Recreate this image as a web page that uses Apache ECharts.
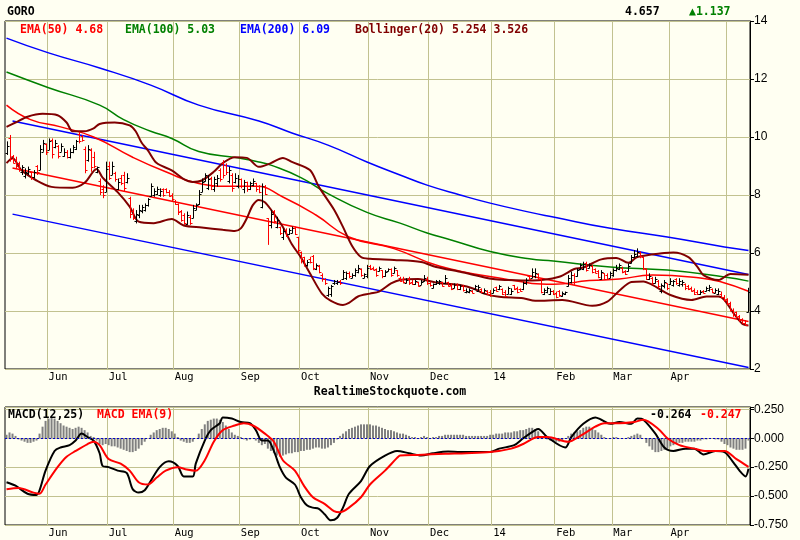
<!DOCTYPE html>
<html>
<head>
<meta charset="utf-8">
<script type="text/javascript" src="https://cdn.jsdelivr.net/npm/echarts/dist/echarts.min.js"></script>
<style>
    html, body { margin: 0; padding: 0; background: #fffff2; }
    #main { width: 800px; height: 540px; }
</style>
</head>
<body>
<div id="main"></div>
<script type="text/javascript">
    // month gridlines (bar index where month starts) and their labels
    var monthLabels = ['Jun', 'Jul', 'Aug', 'Sep', 'Oct', 'Nov', 'Dec', '14', 'Feb', 'Mar', 'Apr', ''];
    var monthStarts = [14, 34, 56, 78, 98, 121, 141, 162, 183, 202, 221, 240];

    var priceTicks = [2, 4, 6, 8, 10, 12, 14];
    var macdTicks = [-0.75, -0.5, -0.25, 0, 0.25];

    // daily OHLC
    var opens = [
        9.45,9.95,9.35,9.2,9.1,8.8,8.65,8.75,8.78,8.62, 9.0,8.86,9.5,9.75,9.55,9.9,9.65,9.7,9.5,9.35,
        9.5,9.3,9.5,9.6,10.1,10.05,9.6,9.2,9.55,9.3, 8.8,8.5,8.2,8.1,9.0,8.7,8.75,8.2,8.6,8.7,
        8.45,7.9,7.45,7.1,7.3,7.45,7.5,7.65,7.95,8.0, 8.05,8.0,8.2,8.2,8.1,8.0,7.8,7.7,7.45,7.3,
        7.0,7.25,7.2,7.5,7.7,8.1,8.5,8.25,8.6,8.2, 8.4,8.85,9.1,9.05,8.5,8.7,8.45,8.3,8.55,8.2,
        8.45,8.2,8.35,8.4,8.3,7.6,8.3,7.2,6.95,7.45, 6.9,6.9,6.55,6.8,6.65,6.7,6.85,6.55,6.05,5.85,
        5.6,5.8,5.9,5.45,5.55,5.25,5.1,4.55,4.6,4.95, 4.95,5.05,5.1,5.15,5.3,5.15,5.25,5.35,5.45,5.15,
        5.2,5.55,5.5,5.45,5.38,5.4,5.2,5.38,5.45,5.3, 5.4,5.15,5.1,4.97,5.1,5.0,4.92,5.0,4.9,5.02,
        5.12,4.98,4.8,4.92,4.95,5.0,4.95,5.0,4.9,4.8, 4.9,4.75,4.85,4.65,4.65,4.7,4.75,4.7,4.75,4.62,
        4.7,4.65,4.62,4.82,4.75,4.75,4.65,4.6,4.6,4.88, 4.8,4.76,4.75,4.95,5.2,5.15,5.2,5.28,5.1,4.6,
        4.65,4.6,4.7,4.62,4.68,4.52,4.58,4.85,5.0,5.25, 5.2,5.45,5.45,5.65,5.5,5.55,5.45,5.38,5.1,5.3,
        5.25,5.15,5.25,5.4,5.45,5.5,5.38,5.38,5.65,5.85, 5.9,6.0,5.85,5.45,5.1,5.15,4.97,5.05,4.7,4.85,
        4.95,4.92,4.9,5.1,4.9,4.92,4.92,4.85,4.8,4.72, 4.65,4.57,4.68,4.68,4.72,4.75,4.62,4.6,4.6,4.5,
        4.4,4.28,4.05,3.95,3.82,3.72,3.6,3.97
    ];
    var highs = [
        9.85,10.07,9.38,9.32,9.15,9.03,8.92,8.98,8.8,8.86, 9.03,9.72,9.9,9.78,9.95,9.95,9.9,9.72,9.78,9.61,
        9.55,9.61,9.72,9.9,10.18,10.07,9.67,9.72,9.61,9.49, 8.98,8.57,8.34,9.15,9.15,9.15,8.8,8.57,8.69,8.8,
        8.75,7.94,7.54,7.48,7.66,7.66,7.71,7.89,8.4,8.23, 8.29,8.23,8.23,8.23,8.17,8.06,7.83,7.71,7.48,7.37,
        7.43,7.31,7.66,7.71,8.17,8.57,8.75,8.69,8.63,8.63, 8.69,8.92,9.2,9.09,8.98,8.75,8.75,8.69,8.57,8.52,
        8.46,8.46,8.57,8.42,8.34,8.4,8.34,7.2,7.48,7.48, 7.25,6.91,6.85,6.85,6.85,6.91,6.91,6.56,6.05,5.87,
        5.76,5.87,5.93,5.64,5.59,5.3,5.13,4.84,4.9,5.07, 5.07,5.07,5.41,5.36,5.36,5.3,5.47,5.59,5.47,5.3,
        5.59,5.59,5.53,5.47,5.53,5.41,5.41,5.47,5.47,5.53, 5.41,5.18,5.18,5.13,5.18,5.07,5.07,5.01,5.07,5.24,
        5.18,5.01,4.95,5.07,5.07,5.01,5.24,5.01,4.95,4.95, 4.95,4.9,4.9,4.78,4.78,4.72,4.9,4.9,4.78,4.78,
        4.72,4.72,4.78,4.84,4.9,4.78,4.72,4.84,4.78,4.9, 4.84,4.78,5.01,5.13,5.24,5.47,5.47,5.3,5.13,4.78,
        4.84,4.78,4.72,4.67,4.72,4.67,4.67,5.24,5.36,5.3, 5.47,5.64,5.7,5.7,5.64,5.59,5.47,5.41,5.41,5.3,
        5.3,5.36,5.47,5.59,5.64,5.53,5.41,5.64,5.93,6.1, 6.16,6.05,5.87,5.47,5.3,5.18,5.18,5.07,4.95,5.07,
        4.95,5.13,5.07,5.13,5.13,5.07,4.95,4.9,4.84,4.78, 4.72,4.72,4.72,4.84,4.9,4.78,4.78,4.78,4.67,4.55,
        4.44,4.32,4.09,3.98,3.86,3.75,3.69,4.8
    ];
    var lows = [
        9.38,9.15,9.09,8.92,8.8,8.69,8.57,8.69,8.52,8.57, 8.69,8.86,9.49,9.38,9.55,9.26,9.61,9.26,9.49,9.32,
        9.26,9.26,9.44,9.55,9.78,9.84,8.75,9.15,8.8,8.92, 8.75,8.0,7.89,8.1,8.52,8.69,8.46,8.17,8.34,8.11,
        8.4,7.2,7.14,7.02,7.2,7.37,7.43,7.6,7.94,7.94, 8.0,7.94,7.94,8.06,7.94,7.77,7.66,7.31,7.08,6.97,
        6.97,6.97,7.2,7.48,7.66,8.1,8.46,8.17,8.17,8.11, 8.29,8.46,8.57,8.69,8.4,8.11,8.4,8.23,8.23,8.06,
        8.11,8.17,8.3,8.11,8.06,7.54,8.0,6.28,6.85,7.02, 6.85,6.62,6.45,6.56,6.62,6.68,6.62,5.99,5.64,5.53,
        5.53,5.64,5.41,5.41,5.3,5.01,4.9,4.49,4.49,4.9, 4.9,4.9,5.07,5.07,5.13,5.13,5.18,5.3,5.18,5.13,
        5.13,5.41,5.41,5.18,5.36,5.13,5.18,5.36,5.18,5.3, 5.18,5.01,4.95,4.95,4.9,4.9,4.9,4.84,4.9,5.01,
        4.9,4.84,4.78,4.9,4.9,4.84,4.95,4.84,4.72,4.78, 4.72,4.72,4.67,4.61,4.61,4.61,4.72,4.67,4.61,4.61,
        4.55,4.49,4.61,4.67,4.72,4.55,4.49,4.58,4.55,4.72, 4.61,4.67,4.72,4.9,5.07,5.13,5.13,5.07,4.61,4.55,
        4.61,4.55,4.55,4.44,4.49,4.49,4.55,4.84,4.95,4.9, 5.18,5.41,5.41,5.36,5.47,5.3,5.3,5.13,5.07,5.07,
        5.07,5.13,5.18,5.36,5.41,5.3,5.24,5.36,5.64,5.82, 5.87,5.82,5.41,5.07,5.07,4.9,4.95,4.78,4.61,4.78,
        4.72,4.9,4.84,4.9,4.84,4.84,4.72,4.72,4.67,4.55, 4.55,4.55,4.61,4.67,4.67,4.61,4.61,4.55,4.44,4.32,
        4.21,3.98,3.8,3.75,3.63,3.57,3.5,3.95
    ];
    var closes = [
        9.7,9.25,9.12,9.0,8.9,8.95,8.8,8.9,8.6,8.78, 8.8,9.6,9.8,9.5,9.85,9.4,9.8,9.35,9.7,9.5,
        9.3,9.5,9.65,9.85,9.85,9.9,8.85,9.6,8.95,9.0, 8.95,8.1,8.0,8.9,8.6,9.0,8.55,8.45,8.4,8.25,
        8.6,7.35,7.2,7.35,7.5,7.6,7.65,7.85,8.3,8.15, 8.2,8.15,8.0,8.1,7.98,7.85,7.7,7.4,7.15,7.05,
        7.3,7.05,7.55,7.65,8.05,8.45,8.7,8.55,8.3,8.55, 8.6,8.55,8.7,8.8,8.85,8.25,8.6,8.55,8.3,8.45,
        8.2,8.4,8.5,8.2,8.1,8.3,8.05,6.95,7.35,7.1, 7.15,6.7,6.75,6.6,6.8,6.85,6.65,6.1,5.75,5.6,
        5.7,5.68,5.5,5.6,5.35,5.1,4.95,4.8,4.85,5.05, 5.0,4.95,5.35,5.3,5.2,5.25,5.4,5.5,5.25,5.27,
        5.5,5.45,5.43,5.25,5.48,5.2,5.35,5.45,5.25,5.5, 5.25,5.05,5.0,5.08,4.95,4.92,5.02,4.87,5.0,5.15,
        4.97,4.88,4.92,5.02,5.03,4.87,5.15,4.87,4.76,4.9, 4.76,4.85,4.72,4.7,4.74,4.63,4.85,4.82,4.65,4.72,
        4.58,4.55,4.72,4.7,4.85,4.6,4.52,4.78,4.7,4.75, 4.65,4.7,4.95,5.07,5.1,5.35,5.3,5.1,4.65,4.72,
        4.8,4.7,4.6,4.5,4.55,4.62,4.64,5.15,5.25,5.0, 5.4,5.58,5.62,5.42,5.6,5.35,5.32,5.18,5.35,5.12,
        5.1,5.3,5.4,5.5,5.58,5.35,5.28,5.55,5.85,5.98, 6.05,5.88,5.5,5.12,5.22,4.95,5.1,4.85,4.9,5.0,
        4.78,5.05,5.02,4.95,5.05,5.0,4.78,4.75,4.7,4.6, 4.57,4.65,4.62,4.78,4.82,4.65,4.72,4.7,4.48,4.38,
        4.25,4.05,3.85,3.8,3.68,3.6,3.52,4.657
    ];

    // indicator lines: [bar index, value] read at intervals
    var ema50 = [[0,11.1],[8,10.6],[18,10.35],[29,10.0],[42,9.3],[53,8.8],[64,8.4],[75,8.3],[83,8.3],[92,7.93],
        [103,7.31],[114,6.55],[129,6.15],[144,5.55],[164,5.14],[182,4.92],[194,5.05],[204,5.1],[215,5.24],
        [231,5.14],[238,5.0],[247,4.68]];
    var ema100 = [[0,12.24],[14,11.7],[31,11.1],[39,10.6],[48,10.2],[55,9.95],[64,9.5],[77,9.28],[84,9.14],
        [88,9.03],[98,8.6],[107,8.05],[120,7.4],[131,7.03],[140,6.69],[148,6.45],[161,6.05],[174,5.8],
        [182,5.72],[201,5.52],[220,5.41],[239,5.17],[247,5.03]];
    var ema200 = [[0,13.41],[14,12.9],[31,12.38],[48,11.79],[64,11.1],[84,10.55],[95,10.14],[107,9.72],
        [120,9.14],[131,8.69],[140,8.34],[151,8.0],[161,7.72],[174,7.41],[182,7.24],[201,6.85],[220,6.55],
        [239,6.21],[247,6.09]];
    var bbUpper = [[0,10.35],[3,10.5],[7,10.7],[12,10.8],[17,10.75],[20,10.5],[22,10.2],[26,10.2],[29,10.3],
        [31,10.45],[36,10.5],[41,10.4],[43,10.2],[45,9.8],[47,9.55],[50,9.1],[55,8.85],[59,8.55],[62,8.45],
        [65,8.5],[69,8.8],[72,9.1],[76,9.3],[80,9.28],[84,8.97],[88,9.1],[92,9.28],[95,9.14],[101,8.86],
        [104,8.28],[109,7.5],[112,6.9],[115,6.25],[118,5.86],[121,5.8],[129,5.76],[138,5.69],[143,5.52],
        [151,5.35],[162,5.1],[167,5.07],[175,5.05],[184,5.18],[189,5.45],[192,5.5],[198,5.78],[203,5.83],
        [207,5.66],[210,5.86],[219,6.0],[222,6.02],[227,5.86],[230,5.52],[232,5.24],[237,5.07],[241,5.28],
        [247,5.25]];
    var bbLower = [[0,9.1],[2,9.28],[5,8.85],[10,8.5],[15,8.28],[22,8.25],[26,8.42],[30,8.9],[32,8.6],
        [37,8.1],[41,7.6],[44,7.08],[49,7.03],[55,7.17],[59,6.95],[65,6.88],[72,6.8],[76,6.76],[78,6.85],
        [80,7.2],[82,7.65],[84,7.83],[86,7.75],[88,7.5],[92,6.9],[95,6.3],[98,5.85],[101,5.3],[105,4.6],
        [108,4.35],[112,4.21],[114,4.28],[117,4.5],[121,4.6],[124,4.67],[128,4.95],[131,5.07],[137,5.1],
        [140,5.05],[145,4.95],[151,4.9],[156,4.75],[159,4.6],[164,4.49],[172,4.44],[176,4.35],[185,4.38],
        [195,4.18],[200,4.32],[204,4.7],[208,5.0],[212,5.02],[215,4.9],[221,4.55],[228,4.38],[233,4.5],
        [237,4.5],[239,4.38],[242,3.93],[245,3.55],[247,3.5]];
    // straight trend channel
    var chanUpper = [[2,10.55],[247,5.26]];
    var chanMid = [[2,8.93],[247,3.64]];
    var chanLower = [[2,7.34],[247,2.05]];

    // MACD panel
    var macdLine = [[0,-0.38],[3,-0.41],[7,-0.48],[10,-0.49],[11,-0.45],[13,-0.28],[16,-0.11],[18,-0.08],
        [21,-0.06],[23,-0.02],[25,0.04],[27,0.01],[29,-0.02],[31,-0.13],[32,-0.24],[34,-0.25],[37,-0.28],
        [40,-0.3],[42,-0.44],[44,-0.47],[46,-0.45],[48,-0.37],[51,-0.25],[54,-0.2],[57,-0.24],[59,-0.33],
        [62,-0.33],[63,-0.22],[66,-0.02],[68,0.07],[71,0.13],[72,0.18],[75,0.17],[78,0.14],[81,0.13],
        [83,0.07],[85,-0.02],[87,-0.02],[89,-0.11],[91,-0.25],[93,-0.34],[96,-0.4],[98,-0.51],[100,-0.58],
        [102,-0.6],[104,-0.61],[106,-0.66],[108,-0.71],[110,-0.69],[112,-0.6],[114,-0.48],[118,-0.37],
        [121,-0.24],[126,-0.15],[130,-0.11],[134,-0.13],[138,-0.15],[142,-0.13],[147,-0.115],[151,-0.12],
        [156,-0.12],[161,-0.12],[164,-0.09],[169,-0.06],[172,0.0],[176,0.07],[177,0.08],[180,0.01],
        [186,-0.08],[188,0.01],[192,0.125],[196,0.18],[198,0.16],[201,0.125],[204,0.14],[208,0.125],
        [210,0.17],[212,0.16],[216,0.04],[219,-0.08],[222,-0.11],[226,-0.09],[229,-0.09],[232,-0.14],
        [236,-0.11],[239,-0.12],[242,-0.21],[244,-0.28],[246,-0.33],[247,-0.264]];
    var macdSignal = [[0,-0.44],[4,-0.43],[9,-0.47],[11,-0.48],[13,-0.4],[17,-0.25],[20,-0.16],[23,-0.11],
        [27,-0.05],[29,-0.03],[31,-0.06],[34,-0.18],[38,-0.22],[41,-0.28],[44,-0.38],[47,-0.4],[50,-0.34],
        [53,-0.28],[57,-0.25],[60,-0.27],[63,-0.28],[66,-0.19],[69,-0.03],[72,0.07],[76,0.11],[79,0.13],
        [82,0.11],[86,0.04],[89,-0.03],[92,-0.19],[96,-0.28],[99,-0.41],[102,-0.51],[106,-0.57],[109,-0.63],
        [111,-0.64],[114,-0.6],[118,-0.51],[121,-0.4],[126,-0.28],[130,-0.17],[131,-0.15],[137,-0.144],
        [146,-0.135],[153,-0.13],[161,-0.12],[168,-0.09],[172,-0.05],[177,0.01],[180,0.01],[187,-0.03],
        [191,0.02],[196,0.1],[199,0.13],[204,0.13],[209,0.14],[212,0.16],[217,0.08],[220,0.0],[224,-0.06],
        [229,-0.09],[233,-0.11],[239,-0.11],[243,-0.18],[247,-0.247]];
    var macdHist = [
        0.03,0.05,0.04,0.02,-0.01,-0.02,-0.03,-0.04,-0.04,-0.03, -0.02,0.04,0.1,0.15,0.17,0.18,0.17,0.15,0.13,0.11,
        0.1,0.09,0.08,0.09,0.1,0.09,0.07,0.05,0.02,0.01, -0.02,-0.05,-0.06,-0.05,-0.06,-0.07,-0.07,-0.08,-0.09,-0.1,
        -0.11,-0.12,-0.12,-0.11,-0.09,-0.06,-0.03,0.0,0.03,0.05, 0.07,0.08,0.09,0.09,0.08,0.06,0.04,0.01,-0.02,-0.03,
        -0.04,-0.04,-0.03,0.0,0.04,0.08,0.12,0.15,0.16,0.17, 0.17,0.16,0.14,0.11,0.08,0.05,0.03,0.02,0.01,-0.01,
        -0.02,-0.01,0.0,-0.02,-0.04,-0.06,-0.05,-0.09,-0.11,-0.13, -0.15,-0.16,-0.15,-0.14,-0.13,-0.13,-0.12,-0.12,-0.11,-0.11,
        -0.1,-0.1,-0.09,-0.08,-0.08,-0.09,-0.09,-0.08,-0.06,-0.04, -0.01,0.02,0.04,0.06,0.08,0.09,0.1,0.11,0.12,0.12,
        0.12,0.12,0.11,0.11,0.1,0.09,0.08,0.07,0.07,0.06, 0.05,0.04,0.04,0.03,0.02,0.01,0.01,0.0,0.01,0.02,
        0.01,0.0,0.01,0.01,0.02,0.02,0.03,0.03,0.03,0.03, 0.03,0.03,0.03,0.02,0.02,0.02,0.02,0.02,0.02,0.02,
        0.02,0.03,0.03,0.04,0.04,0.04,0.05,0.05,0.05,0.06, 0.06,0.07,0.07,0.08,0.09,0.09,0.08,0.06,0.02,0.0,
        -0.01,-0.02,-0.03,-0.03,-0.03,-0.02,0.0,0.02,0.04,0.05, 0.06,0.07,0.09,0.1,0.1,0.09,0.07,0.05,0.03,0.01,
        0.0,0.0,0.01,0.01,0.0,0.0,0.0,0.01,0.02,0.03, 0.04,0.03,0.0,-0.04,-0.07,-0.1,-0.12,-0.12,-0.11,-0.1,
        -0.09,-0.07,-0.06,-0.05,-0.04,-0.04,-0.03,-0.03,-0.03,-0.03, -0.02,-0.02,-0.01,-0.01,0.0,0.0,-0.01,-0.01,-0.03,-0.05,
        -0.06,-0.08,-0.09,-0.1,-0.1,-0.1,-0.09,-0.02
    ];

    var days = closes.map(function (c, i) { return String(i); });
    var bars = closes.map(function (c, i) { return [i, opens[i], highs[i], lows[i], c]; });

    var gridColor = '#c2c290';
    var monoBold = 'bold 11.5px "DejaVu Sans Mono"';

    function isMonth(idx) { return monthStarts.indexOf(idx) >= 0; }

    function xAxisFor(gridIndex) {
        return {
            type: 'category', gridIndex: gridIndex, data: days, boundaryGap: true,
            axisLine: { show: false }, axisTick: { show: false },
            axisLabel: {
                interval: isMonth, align: 'left', margin: 3, color: '#000',
                fontFamily: 'DejaVu Sans Mono', fontSize: 10.5,
                formatter: function (v, idx) { return monthLabels[monthStarts.indexOf(Number(v))] || ''; }
            },
            splitLine: { show: true, interval: isMonth, lineStyle: { color: gridColor, width: 1 } }
        };
    }

    function textItem(x, y, str, color, align) {
        return {
            type: 'text', x: x, y: y, z: 100,
            style: { text: str, fill: color, font: monoBold, verticalAlign: 'middle', align: align || 'left' }
        };
    }

    function lineSeries(data, color, width, smooth, z) {
        return {
            type: 'line', data: data, xAxisIndex: 0, yAxisIndex: 0, showSymbol: false, smooth: smooth || false,
            lineStyle: { color: color, width: width }, z: z || 3, silent: true
        };
    }

    var myChart = echarts.init(document.getElementById('main'));

    option = {
        animation: false,
        backgroundColor: '#fffff2',
        grid: [
            { left: 5, right: 50, top: 21, height: 348, show: true, borderColor: '#000', borderWidth: 1, backgroundColor: '#fffff2' },
            { left: 5, right: 50, top: 407, height: 118, show: true, borderColor: '#000', borderWidth: 1, backgroundColor: '#fffff2' }
        ],
        xAxis: [xAxisFor(0), xAxisFor(1)],
        yAxis: [{
            type: 'value', gridIndex: 0, position: 'right', min: 2, max: 14, interval: 2,
            axisLine: { show: true, lineStyle: { color: '#000' } },
            axisTick: { show: true, length: 4, lineStyle: { color: '#000' } },
            axisLabel: { color: '#000', fontFamily: 'Liberation Sans', fontSize: 12, margin: 4,
                formatter: function (v) { return priceTicks.indexOf(v) >= 0 ? String(v) : ''; } },
            splitLine: { lineStyle: { color: gridColor } }
        }, {
            type: 'value', gridIndex: 1, position: 'right', min: -0.75, max: 0.27, interval: 0.25,
            axisLine: { show: true, lineStyle: { color: '#000' } },
            axisTick: { show: true, length: 4, lineStyle: { color: '#000' } },
            axisLabel: { color: '#000', fontFamily: 'Liberation Sans', fontSize: 12, margin: 4,
                formatter: function (v) {
                    for (var k = 0; k < macdTicks.length; k++) {
                        if (Math.abs(macdTicks[k] - v) < 1e-6) return macdTicks[k].toFixed(3);
                    }
                    return '';
                } },
            splitLine: { lineStyle: { color: gridColor } }
        }],
        graphic: [
            textItem(7, 12, 'GORO', '#000'),
            textItem(625, 12, '4.657', '#000'),
            textItem(689, 12, '\u25B21.137', '#008000'),
            textItem(20, 30, 'EMA(50) 4.68', '#ff0000'),
            textItem(125, 30, 'EMA(100) 5.03', '#008000'),
            textItem(240, 30, 'EMA(200) 6.09', '#0000ff'),
            textItem(355, 30, 'Bollinger(20) 5.254 3.526', '#800000'),
            textItem(390, 392, 'RealtimeStockquote.com', '#000', 'center'),
            textItem(8, 415, 'MACD(12,25)', '#000'),
            textItem(97, 415, 'MACD EMA(9)', '#ff0000'),
            textItem(650, 415, '-0.264', '#000'),
            textItem(700, 415, '-0.247', '#ff0000')
        ],
        series: [
            lineSeries(chanUpper, '#0000ff', 1.5, false, 2),
            lineSeries(chanMid, '#ff0000', 1.5, false, 2),
            lineSeries(chanLower, '#0000ff', 1.5, false, 2),
            lineSeries(ema200, '#0000ff', 1.5, true),
            lineSeries(ema100, '#008000', 1.5, true),
            lineSeries(ema50, '#ff0000', 1.5, true),
            lineSeries(bbUpper, '#800000', 2, 0.3),
            lineSeries(bbLower, '#800000', 2, 0.3),
            {
                // OHLC bars: open tick left, close tick right
                type: 'custom', xAxisIndex: 0, yAxisIndex: 0, data: bars, z: 10, silent: true,
                encode: { x: 0, y: [1, 2, 3, 4] },
                renderItem: function (params, api) {
                    var i = api.value(0);
                    var o = api.value(1), h = api.value(2), l = api.value(3), c = api.value(4);
                    var pH = api.coord([i, h]), pL = api.coord([i, l]);
                    var pO = api.coord([i, o]), pC = api.coord([i, c]);
                    var x = Math.round(pH[0]) + 0.5;
                    var col = c >= o ? '#000000' : '#ff0000';
                    var st = { stroke: col, lineWidth: 1 };
                    return {
                        type: 'group',
                        children: [
                            { type: 'line', shape: { x1: x, y1: pH[1], x2: x, y2: pL[1] }, style: st },
                            { type: 'line', shape: { x1: x - 2, y1: Math.round(pO[1]) + 0.5, x2: x, y2: Math.round(pO[1]) + 0.5 }, style: st },
                            { type: 'line', shape: { x1: x, y1: Math.round(pC[1]) + 0.5, x2: x + 2, y2: Math.round(pC[1]) + 0.5 }, style: st }
                        ]
                    };
                }
            },
            {
                type: 'bar', xAxisIndex: 1, yAxisIndex: 1, data: macdHist, barWidth: 2, silent: true,
                itemStyle: { color: '#808080' },
                markLine: {
                    silent: true, symbol: ['none', 'none'], label: { show: false },
                    lineStyle: { color: '#0000cc', type: [2, 2], width: 1 },
                    data: [{ yAxis: 0 }]
                }
            },
            {
                type: 'line', xAxisIndex: 1, yAxisIndex: 1, data: macdLine, showSymbol: false, smooth: 0.3,
                lineStyle: { color: '#000', width: 2 }, silent: true, z: 4
            },
            {
                type: 'line', xAxisIndex: 1, yAxisIndex: 1, data: macdSignal, showSymbol: false, smooth: 0.3,
                lineStyle: { color: '#ff0000', width: 2 }, silent: true, z: 5
            }
        ]
    };

    myChart.setOption(option);
</script>
</body>
</html>
